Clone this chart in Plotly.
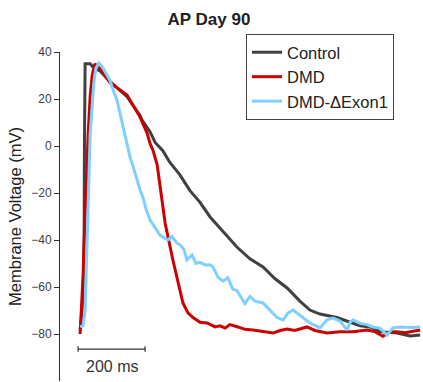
import plotly.graph_objects as go

# ---- data (time in ms, voltage in mV) ----
control_t = [60, 66, 69, 72, 73, 75, 75, 90, 99, 119, 149, 200, 239, 245, 269, 284, 307, 328, 358,
             388, 418, 448, 487, 528, 567, 606, 642, 678, 716, 746, 776, 827, 866, 896, 925, 955,
             1006, 1045, 1075]
control_v = [-78, -70, -62, -40, 0, 25, 35, 35, 33.5, 32, 27.5, 21, 13, 11, 6, 1.5, -2, -7, -12.3,
             -19, -24, -30.2, -36.5, -43, -48, -51.5, -56.5, -60.4, -66, -69.8, -71.5, -73, -75,
             -76.5, -77, -79, -79.6, -80.8, -80.4]

dmd_t = [60, 63, 69, 72, 78, 84, 90, 96, 104, 119, 149, 200, 239, 260, 269, 278, 290, 305, 314,
         337, 352, 367, 382, 397, 418, 439, 463, 478, 493, 507, 531, 552, 576, 606, 636, 657,
         678, 701, 737, 761, 797, 836, 875, 916, 940, 964, 985, 1006, 1030, 1075]
dmd_v = [-80, -72, -55, -41, -15, 5, 21, 30, 35, 33, 27, 21.7, 12.3, 5.5, 1, -2, -8, -23, -33,
         -48.5, -58, -66.8, -71, -73, -75, -75.3, -77, -76.5, -77.5, -76, -77, -78, -78.3, -79,
         -79.6, -78.5, -77.9, -78.5, -77, -78.5, -79.6, -79, -79, -78.3, -79, -81, -79, -79,
         -79.5, -78.3]

dex_t = [60, 69, 75, 78, 81, 84, 90, 96, 101, 107, 116, 125, 137, 149, 158, 170, 179, 188, 200,
         209, 221, 230, 239, 248, 257, 269, 284, 299, 307, 322, 334, 349, 358, 370, 379, 394,
         406, 418, 433, 448, 457, 472, 487, 501, 516, 528, 543, 552, 567, 582, 606, 627, 648,
         666, 681, 696, 716, 746, 761, 776, 797, 815, 836, 857, 866, 875, 896, 916, 934, 955,
         976, 994, 1015, 1045, 1075]
dex_v = [-77, -76.5, -70, -55, -35, -15, 5, 17, 27, 33, 35.3, 34, 31, 28, 24, 19.6, 14, 8, 1,
         -4.7, -10, -14.5, -18.7, -22, -27, -31.5, -35, -38, -38.7, -40, -38.5, -41.3, -42,
         -44, -48.5, -46.4, -50, -49.5, -50.6, -50.5, -51.5, -56, -57.5, -56, -61, -61.5, -65,
         -67, -64, -66, -66.8, -70, -73, -74, -71, -69.8, -72, -75.3, -76.3, -77.4, -74, -73.2,
         -74.5, -78.3, -75, -74, -75.5, -76, -77, -77.5, -80.4, -77.4, -77, -77.2, -77]

y_ticks = [-80, -60, -40, -20, 0, 20, 40]
scale_start_ms = 54
scale_len_ms = 200
scale_y = -86.4
scale_label = "200 ms"

fig = go.Figure()
fig.add_trace(go.Scatter(x=control_t, y=control_v, mode="lines", name="Control",
                         line=dict(color="#404040", width=3), legendrank=1))
fig.add_trace(go.Scatter(x=dmd_t, y=dmd_v, mode="lines", name="DMD",
                         line=dict(color="#cc0000", width=3), legendrank=2))
fig.add_trace(go.Scatter(x=dex_t, y=dex_v, mode="lines", name="DMD-ΔExon1",
                         line=dict(color="#7fd0ff", width=3), legendrank=3))

# scale bar
x0, x1 = scale_start_ms, scale_start_ms + scale_len_ms
fig.add_shape(type="line", x0=x0, x1=x1, y0=scale_y, y1=scale_y, xref="x", yref="y",
              line=dict(color="#333333", width=1.2))
for xe in (x0, x1):
    fig.add_shape(type="line", x0=xe, x1=xe, y0=scale_y - 1.2, y1=scale_y + 1.2,
                  xref="x", yref="y", line=dict(color="#333333", width=1.2))
fig.add_annotation(x=(x0 + x1) / 2, y=scale_y - 7.3, xref="x", yref="y", text=scale_label,
                   showarrow=False, font=dict(family="Liberation Sans, Arial", size=16, color="#333333"))

fig.update_layout(
    width=423, height=382,
    margin=dict(l=60, r=1, t=52, b=1),
    paper_bgcolor="white", plot_bgcolor="white",
    title=dict(text="<b>AP Day 90</b>", x=209 / 423, y=1 - 19 / 382, xanchor="center",
               yanchor="middle", font=dict(family="Liberation Sans, Arial", size=17, color="#222222")),
    xaxis=dict(visible=False, range=[0, 1080.6]),
    yaxis=dict(range=[-100, 40], tickvals=y_ticks, showline=True, linecolor="#333333",
               linewidth=1, ticks="outside", ticklen=5, tickcolor="#333333", showgrid=False,
               zeroline=False, tickfont=dict(family="Liberation Sans, Arial", size=12, color="#404040"),
               title=dict(text="Membrane Voltage (mV)", standoff=5,
                          font=dict(family="Liberation Sans, Arial", size=16.5, color="#222222"))),
    legend=dict(x=(246 - 60) / 362, y=1 + (52 - 34) / 329, xanchor="left", yanchor="top",
                bgcolor="white", bordercolor="#444444", borderwidth=1,
                font=dict(family="Liberation Sans, Arial", size=16.5, color="#222222"),
                itemwidth=30, tracegroupgap=0),
    showlegend=True,
)

fig.write_html("out.html")
